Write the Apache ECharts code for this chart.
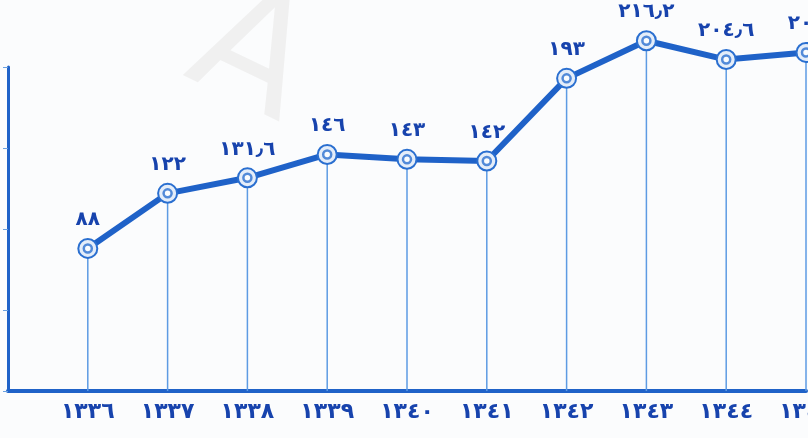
<!DOCTYPE html>
<html>
<head>
<meta charset="utf-8">
<script src="https://cdn.jsdelivr.net/npm/echarts@6/dist/echarts.min.js"></script>
<style>
html,body{margin:0;padding:0;background:#fbfcfd;}
#c{width:808px;height:438px;}
</style>
</head>
<body>
<div id="c"></div>
<script>
// Categories (leading empty slot at the y-axis position)
const years = ['', '1336', '1337', '1338', '1339', '1340', '1341', '1342', '1343', '1344', '1345'];
const values = [null, 88, 122, 131.6, 146, 143, 142, 193, 216.2, 204.6, 209];
const yTicks = [0, 50, 100, 150, 200];

const digits = ['٠','١','٢','٣','٤','٥','٦','٧','٨','٩'];
function toAr(s) {
  return String(s).replace(/[0-9]/g, d => digits[+d]).replace('.', '٫');
}
const BLUE = '#1f62c8';
const DARK = '#1743ad';
const FONT = "'DejaVu Sans', 'Noto Sans', sans-serif";

const chart = echarts.init(document.getElementById('c'));
chart.setOption({
  backgroundColor: '#fbfcfd',
  animation: false,
  graphic: [{
    type: 'text', left: 165, top: -35, rotation: -0.45,
    style: { text: 'A', fontSize: 160, fontFamily: FONT, fill: '#f0f0f0' }, z: -1
  }],
  grid: { left: 8, right: 2, top: 67, bottom: 47, containLabel: false, outerBoundsMode: 'none' },
  xAxis: {
    type: 'category',
    data: years,
    boundaryGap: false,
    axisLine: { lineStyle: { color: BLUE, width: 4 } },
    axisTick: { show: false },
    axisLabel: {
      formatter: v => toAr(v),
      color: DARK, fontSize: 22, fontWeight: 'bold', fontFamily: FONT, margin: 10,
      interval: 0, hideOverlap: false
    },
    splitLine: { show: false }
  },
  yAxis: {
    type: 'value',
    min: yTicks[0], max: yTicks[yTicks.length - 1], interval: 50,
    axisLine: { show: true, lineStyle: { color: BLUE, width: 3 } },
    axisTick: { show: true, length: 5, lineStyle: { color: '#6aa0e0', width: 1 } },
    axisLabel: { show: false },
    splitLine: { show: false }
  },
  series: [
    {
      type: 'bar',
      data: values,
      barWidth: 1.5,
      clip: false,
      itemStyle: { color: '#5d9be3' },
      silent: true,
      z: 1
    },
    {
      type: 'line',
      data: values,
      clip: false,
      connectNulls: false,
      symbol: 'circle',
      symbolSize: 19,
      lineStyle: { color: BLUE, width: 6 },
      itemStyle: { color: '#e4edf9', borderColor: '#2a6fd0', borderWidth: 2 },
      label: {
        show: true, position: 'top', distance: 8,
        formatter: p => p.value == null ? '' : toAr(p.value),
        color: DARK, fontSize: 20, fontWeight: 'bold', fontFamily: FONT
      },
      z: 3
    },
    {
      type: 'scatter',
      data: values,
      clip: false,
      symbol: 'circle',
      symbolSize: 8,
      itemStyle: { color: '#ffffff', borderColor: '#2a6fd0', borderWidth: 2.5 },
      silent: true,
      z: 4
    }
  ]
});
</script>
</body>
</html>
